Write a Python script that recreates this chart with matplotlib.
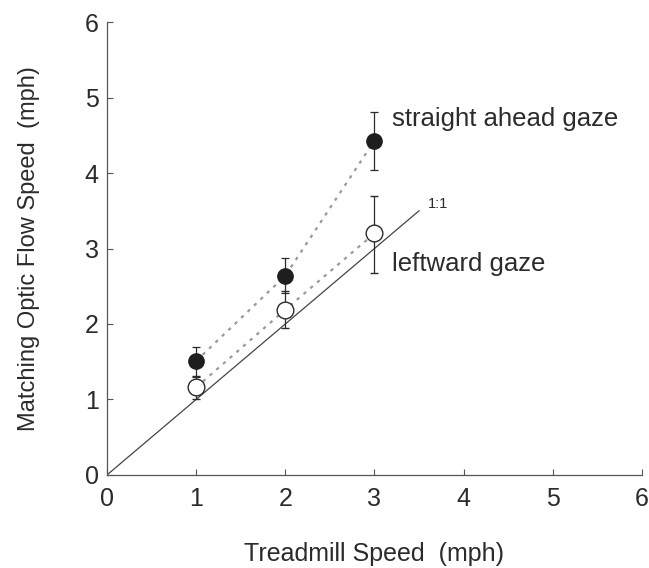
import numpy as np
import matplotlib
matplotlib.use("Agg")
import matplotlib.pyplot as plt

plt.rcParams['font.family'] = ['Liberation Sans', 'DejaVu Sans']

speed = [1, 2, 3]
straight_mean = [1.51, 2.64, 4.43]
straight_lo = [0.21, 0.23, 0.39]
straight_hi = [0.19, 0.24, 0.38]
leftward_mean = [1.16, 2.19, 3.20]
leftward_lo = [0.15, 0.25, 0.52]
leftward_hi = [0.15, 0.25, 0.50]
unity_x = [0, 3.5]
ticks = [0, 1, 2, 3, 4, 5, 6]

ink = '#2b2b2b'
fig = plt.figure(figsize=(6.49, 5.68), dpi=100)
ax = fig.add_axes([0.165, 0.164, 0.824, 0.797])

# 1:1 reference
ax.plot(unity_x, unity_x, color='#444444', lw=0.9, zorder=1)
ax.text(3.6, 3.5, '1:1', fontsize=10.5, color=ink, ha='left', va='bottom')

# dotted connecting lines
ax.plot(speed, straight_mean, ls=(0, (1.5, 2.5)), color='#9a9a9a', lw=1.6, zorder=2)
ax.plot(speed, leftward_mean, ls=(0, (1.5, 2.5)), color='#9a9a9a', lw=1.6, zorder=2)

ax.errorbar(speed, straight_mean, yerr=[straight_lo, straight_hi], fmt='o',
            color=ink, mfc='#1e1e1e', mec='#1e1e1e', ms=11, capsize=3,
            elinewidth=0.9, capthick=0.9, zorder=3)
ax.errorbar(speed, leftward_mean, yerr=[leftward_lo, leftward_hi], fmt='o',
            color=ink, mfc='white', mec=ink, ms=12, mew=1.0, capsize=3,
            elinewidth=0.9, capthick=0.9, zorder=4)

ax.text(3.2, 4.72, 'straight ahead gaze', fontsize=18.5, color=ink, va='center')
ax.text(3.2, 2.8, 'leftward gaze', fontsize=18.5, color=ink, va='center')

ax.set_xlim(0, 6)
ax.set_ylim(0, 6)
ax.set_xticks(ticks)
ax.set_yticks(ticks)
ax.tick_params(direction='in', length=4, width=0.8, colors='#555555',
               labelcolor=ink, labelsize=18)
ax.tick_params(axis='x', pad=9)
ax.tick_params(axis='y', pad=6)
for side in ['top', 'right']:
    ax.spines[side].set_visible(False)
for side in ['left', 'bottom']:
    ax.spines[side].set_color('#555555')
    ax.spines[side].set_linewidth(0.9)

ax.set_xlabel('Treadmill Speed  (mph)', fontsize=18, color=ink, labelpad=22)
ax.set_ylabel('Matching Optic Flow Speed  (mph)', fontsize=17, color=ink, labelpad=32)

fig.savefig('out.png', dpi=100)
